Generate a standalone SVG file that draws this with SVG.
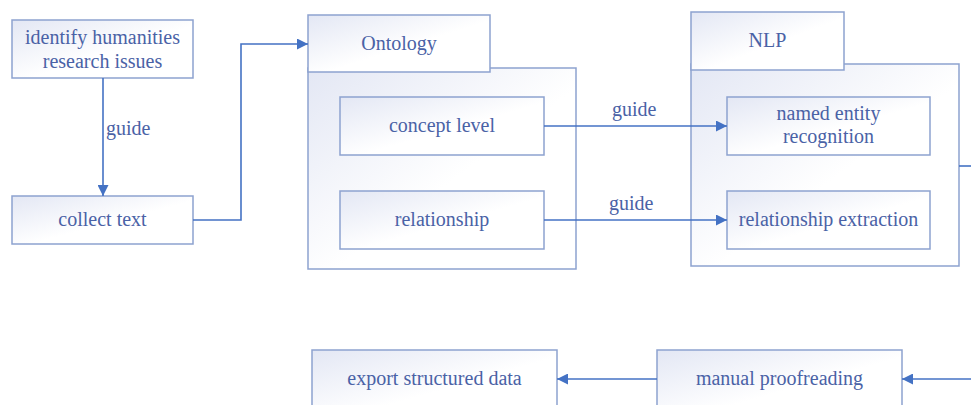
<svg xmlns="http://www.w3.org/2000/svg" width="971" height="405" viewBox="0 0 971 405" font-family="Liberation Serif, Times New Roman, serif">
<defs>
<linearGradient id="g" x1="0" y1="0" x2="1" y2="1">
<stop offset="0" stop-color="#e3e7f4"/>
<stop offset="0.55" stop-color="#ffffff"/>
<stop offset="1" stop-color="#ffffff"/>
</linearGradient>
<marker id="ah" viewBox="0 0 10 10" refX="10" refY="5" markerWidth="11" markerHeight="11" markerUnits="userSpaceOnUse" orient="auto">
<path d="M0,0 L10,5 L0,10 Z" fill="#4472c4"/>
</marker>
<style>
.box{fill:url(#g);stroke:#8da2cf;stroke-width:1.5}
.t{font-size:20px;fill:#4a62a6;text-anchor:middle}
.lbl{font-size:20px;fill:#4a62a6}
.c{fill:none;stroke:#4472c4;stroke-width:1.6}
</style>
</defs>
<rect width="971" height="405" fill="#ffffff"/>
<g id="n-identify">
<rect class="box" x="12" y="20" width="181" height="58"/>
<text class="t" x="102.5" y="44" font-family="Liberation Serif">identify humanities</text>
<text class="t" x="102.5" y="68" font-family="Liberation Serif">research issues</text>
</g>
<g id="n-collect">
<rect class="box" x="12" y="196" width="181" height="48"/>
<text class="t" x="102.5" y="226" font-family="Liberation Serif">collect text</text>
</g>
<g id="n-ontology">
<rect class="box" x="308" y="68" width="268" height="201"/>
<rect class="box" x="308" y="15" width="182" height="57"/>
<text class="t" x="399" y="50" font-family="Liberation Serif">Ontology</text>
</g>
<g id="n-concept">
<rect class="box" x="340" y="97" width="204" height="58"/>
<text class="t" x="442" y="132" font-family="Liberation Serif">concept level</text>
</g>
<g id="n-relationship">
<rect class="box" x="340" y="191" width="204" height="58"/>
<text class="t" x="442" y="226" font-family="Liberation Serif">relationship</text>
</g>
<g id="n-nlp">
<rect class="box" x="691" y="64" width="268" height="202"/>
<rect class="box" x="691" y="12" width="153" height="58"/>
<text class="t" x="767.5" y="47" font-family="Liberation Serif">NLP</text>
</g>
<g id="n-ner">
<rect class="box" x="727" y="97" width="203" height="58"/>
<text class="t" x="828.5" y="120" font-family="Liberation Serif">named entity</text>
<text class="t" x="828.5" y="143" font-family="Liberation Serif">recognition</text>
</g>
<g id="n-re">
<rect class="box" x="727" y="191" width="203" height="58"/>
<text class="t" x="828.5" y="226" font-family="Liberation Serif">relationship extraction</text>
</g>
<g id="n-manual">
<rect class="box" x="657" y="350" width="245" height="70"/>
<text class="t" x="779.5" y="385" font-family="Liberation Serif">manual proofreading</text>
</g>
<g id="n-export">
<rect class="box" x="312" y="350" width="245" height="70"/>
<text class="t" x="434.5" y="385" font-family="Liberation Serif">export structured data</text>
</g>
<g id="connectors">
<path class="c" d="M103,78 V196" marker-end="url(#ah)"/>
<text class="lbl" x="106" y="135" font-family="Liberation Serif">guide</text>
<path class="c" d="M193,220 H241 V44 H308" marker-end="url(#ah)"/>
<path class="c" d="M544,126 H727" marker-end="url(#ah)"/>
<text class="lbl" x="612" y="116" font-family="Liberation Serif">guide</text>
<path class="c" d="M544,220 H727" marker-end="url(#ah)"/>
<text class="lbl" x="609" y="210" font-family="Liberation Serif">guide</text>
<path class="c" d="M959,166 H971"/>
<path class="c" d="M971,379 H902" marker-end="url(#ah)"/>
<path class="c" d="M657,379 H557" marker-end="url(#ah)"/>
</g>
</svg>
